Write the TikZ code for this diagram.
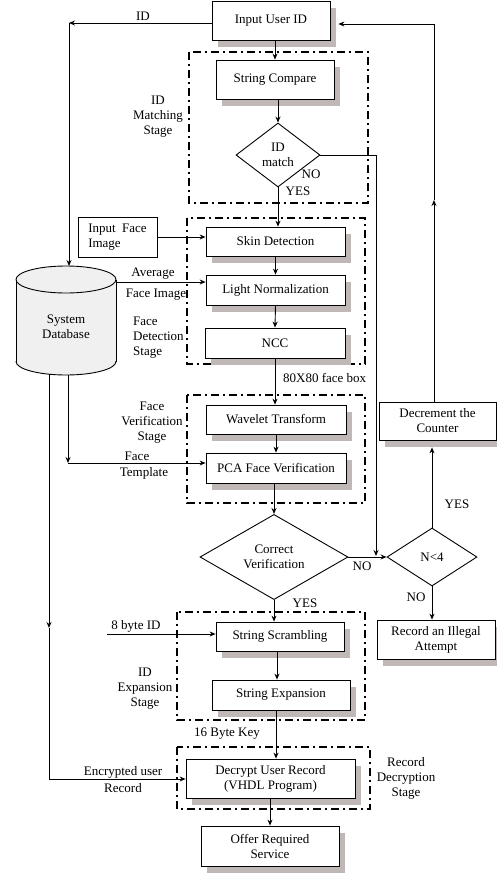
\documentclass[tikz,border=0pt]{standalone}
\usepackage{fontspec}
\setmainfont{Liberation Serif}
\usetikzlibrary{arrows.meta,shapes.geometric,shadows}
\definecolor{shadowc}{RGB}{192,183,183}
\definecolor{dbfill}{RGB}{240,240,240}
\begin{document}
\begin{tikzpicture}[x=1pt,y=-1pt,
  txt/.style={font=\fontsize{13}{15}\selectfont, inner sep=0pt, align=center},
  box/.style={txt, draw, fill=white, line width=0.8pt},
  shbox/.style={box, general shadow={fill=shadowc, shadow xshift=6pt, shadow yshift=-7pt}},
  dia/.style={txt, draw, fill=white, line width=0.9pt, diamond},
  stage/.style={draw, line width=1.1pt, dash pattern=on 8pt off 4pt on 2pt off 4pt},
  arr/.style={-{Stealth[length=6pt,width=5pt]}, line width=0.9pt},
  ln/.style={line width=0.9pt}]
\useasboundingbox (0,0) rectangle (497,873);
\fill[white] (0,0) rectangle (497,873);

% stage frames
\draw[stage] (189,52) rectangle (368,203);
\draw[stage] (187,218) rectangle (365,364);
\draw[stage] (187,395) rectangle (365,503);
\draw[stage] (177,612) rectangle (365,720);
\draw[stage] (177,747) rectangle (370,809);

% boxes
\node[shbox, minimum width=118pt, minimum height=39pt] (inid) at (271,20.5) {Input User ID};
\node[shbox, minimum width=118pt, minimum height=39pt] (strcmp) at (275,79.5) {String Compare};
\node[dia, minimum width=84pt, minimum height=64pt] (idm) at (278,155) {ID\\match};
\node[box, minimum width=79pt, minimum height=40pt, align=left] (inface) at (117.5,237) {Input\ \ Face\\Image};
\node[shbox, minimum width=139pt, minimum height=29pt] (skin) at (275.5,241.5) {Skin Detection};
\node[shbox, minimum width=139pt, minimum height=30pt] (light) at (275.5,290) {Light Normalization};
\node[shbox, minimum width=140pt, minimum height=30pt] (ncc) at (275,343) {NCC};
\node[shbox, minimum width=140pt, minimum height=29pt] (wav) at (276,419.5) {Wavelet Transform};
\node[shbox, minimum width=140pt, minimum height=30pt] (pca) at (276,468) {PCA Face Verification};
\node[dia, minimum width=148pt, minimum height=68pt] (cv) at (274,557) {Correct\\Verification};
\node[dia, minimum width=90pt, minimum height=58pt] (nl) at (432,557) {N<4};
\node[shbox, minimum width=117pt, minimum height=38pt] (dec) at (437.5,421) {Decrement the\\Counter};
\node[shbox, minimum width=118pt, minimum height=39pt] (ill) at (436,639.5) {Record an Illegal\\Attempt};
\node[shbox, minimum width=128pt, minimum height=29pt] (scr) at (280,636.5) {String Scrambling};
\node[shbox, minimum width=138pt, minimum height=30pt] (exp) at (281,695) {String Expansion};
\node[shbox, minimum width=169pt, minimum height=39pt] (decr) at (270.5,778.5) {Decrypt User Record\\(VHDL Program)};
\node[shbox, minimum width=138pt, minimum height=40pt] (offer) at (270,846) {Offer Required\\Service};

% database cylinder
\fill[dbfill] (16,279.5) rectangle (116,361.5);
\fill[dbfill] (66,361.5) ellipse [x radius=50, y radius=13.5];
\begin{scope}
  \clip (0,361.5) rectangle (130,385);
  \draw[ln] (66,361.5) ellipse [x radius=50, y radius=13.5];
\end{scope}
\draw[ln] (16,279.5) -- (16,361.5);
\draw[ln] (116,279.5) -- (116,361.5);
\draw[ln, fill=dbfill] (66,279.5) ellipse [x radius=50, y radius=13.5];
\node[txt] (db) at (66,327) {System\\Database};
\coordinate (dbtop) at (69,266);
\coordinate (dbR) at (116,282);
\coordinate (dbB1) at (49,374);
\coordinate (dbB2) at (68,375);

% labels
\node[txt] (lid) at (143,16) {ID};
\node[txt] (lms) at (158,117) {ID\\Matching\\Stage};
\node[txt] (lno1) at (311,174) {NO};
\node[txt] (lyes1) at (298,191) {YES};
\node[txt] (lavg) at (153,274) {Average};
\node[txt] (lfim) at (156,295) {Face Image};
\node[txt, align=left, anchor=west] (lfds) at (133,338) {Face\\Detection\\Stage};
\node[txt, anchor=west] (l80) at (283,378) {80X80 face box};
\node[txt] (lfvs) at (152,423) {Face\\Verification\\Stage};
\node[txt] (lface) at (137,456) {Face};
\node[txt] (ltpl) at (144,473) {Template};
\node[txt] (lno2) at (362,566) {NO};
\node[txt] (lyes2) at (457,504) {YES};
\node[txt] (lno3) at (416,597) {NO};
\node[txt] (lyes3) at (305,603) {YES};
\node[txt] (l8b) at (136,626) {8 byte ID};
\node[txt] (lies) at (145,689) {ID\\Expansion\\Stage};
\node[txt] (l16) at (227,734) {16 Byte Key};
\node[txt] (lenc) at (123,772) {Encrypted user};
\node[txt] (lrec) at (123,788) {Record};
\node[txt] (lrds) at (406,778) {Record\\Decryption\\Stage};

% main flow
\draw[arr] (inid.south -| strcmp.north) -- (strcmp.north);
\draw[arr] (strcmp.south -| idm.north) -- (idm.north);
\draw[arr] (idm.south) -- (idm.south |- skin.north);
\draw[arr] (skin.south) -- (light.north);
\draw[arr] (light.south) -- (ncc.north);
\draw[arr] (ncc.south) -- (ncc.south |- wav.north);
\draw[arr] (wav.south) -- (pca.north);
\draw[arr] (pca.south -| cv.north) -- (cv.north);
\draw[arr] (cv.south) -- (cv.south |- scr.north);
\draw[arr] ([xshift=-3pt]scr.south) -- ([xshift=-3pt]scr.south |- exp.north);
\coordinate (k16) at (276,710);
\draw[arr] (k16) -- (k16 |- decr.north);
\draw[arr] (decr.south -| offer.north) -- (offer.north);

% NO branches
\coordinate (n1) at (376,155);
\coordinate (n2) at (376,556);
\draw[ln] (idm.east) -- (n1);
\draw[arr] (n1) -- (n2);
\draw[arr] (cv.east) -- (nl.west);
\coordinate (decsh) at ([yshift=-7pt]dec.south);
\draw[arr] (nl.north) -- (nl.north |- decsh);
\draw[arr] (nl.south) -- (nl.south |- ill.north);

% feedback loop
\coordinate (fb1) at (434,200);
\coordinate (fb2) at (434,24);
\coordinate (inidsh) at ([xshift=8pt]inid.east);
\draw[arr] (fb1 |- dec.north) -- (fb1);
\draw[arr] (fb1) -- (fb2) -- (fb2 -| inidsh);

% ID to database
\coordinate (idc) at (69,23);
\draw[arr] (inid.west |- idc) -- (idc);
\draw[arr] (idc) -- (dbtop);

% side inputs
\draw[arr] (inface.east) -- (inface.east -| skin.west);
\draw[arr] (dbR) -- (dbR -| light.west);
\coordinate (c1) at (68,463);
\draw[arr] (dbB2) -- (c1);
\draw[arr] (c1) -- (c1 -| pca.west);
\coordinate (c2) at (49,628);
\coordinate (c3) at (49,779);
\draw[arr] (dbB1) -- (c2);
\draw[arr] (c2) -- (c3) -- (c3 -| decr.west);
\coordinate (b8) at (107,634);
\draw[arr] (b8) -- (b8 -| scr.west);
\end{tikzpicture}
\end{document}
